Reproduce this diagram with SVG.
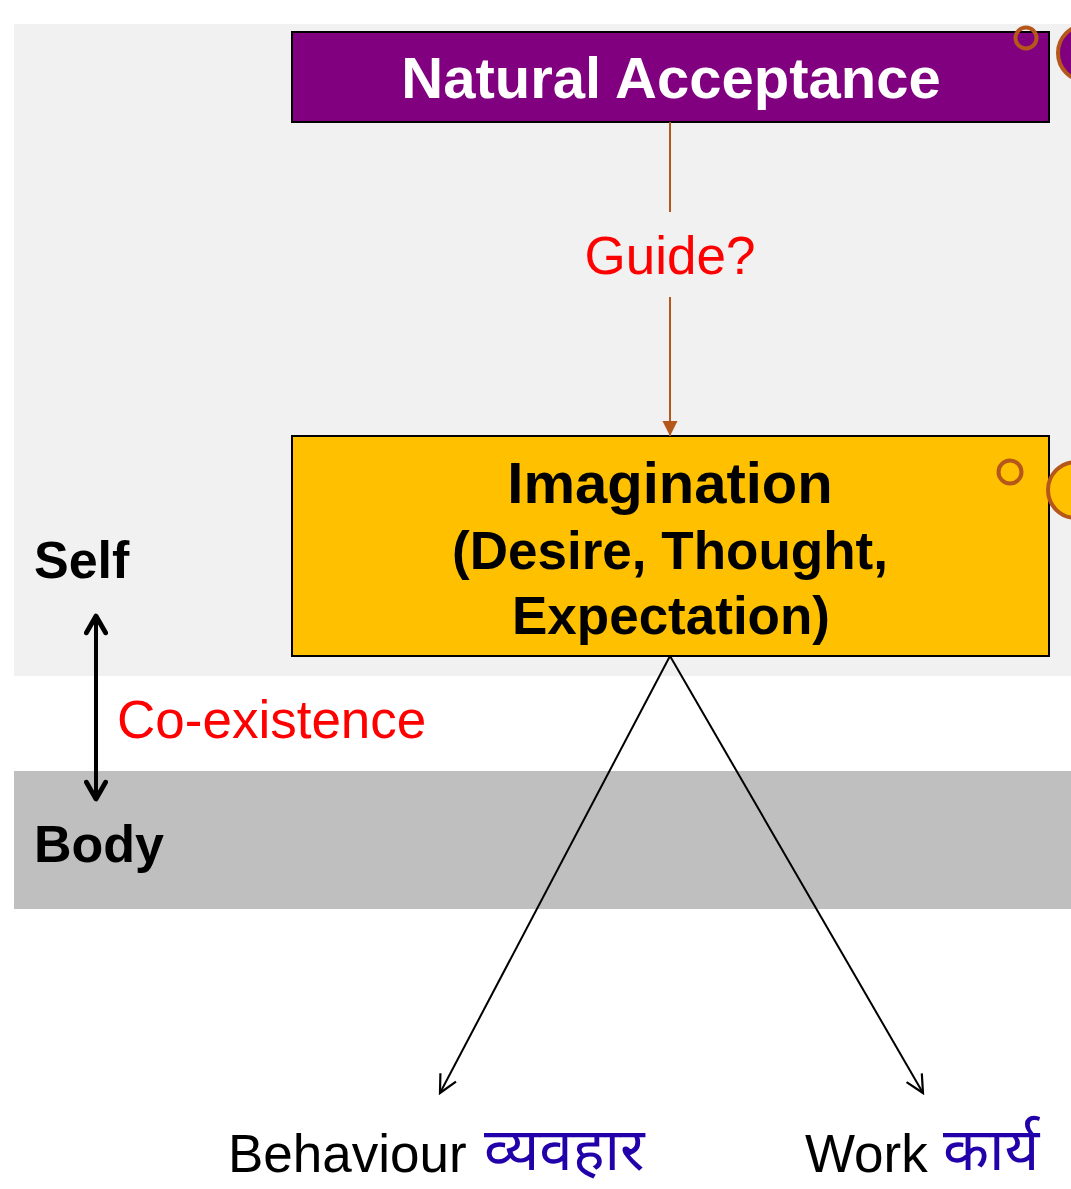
<svg xmlns="http://www.w3.org/2000/svg" width="1071" height="1189" viewBox="0 0 1071 1189">
  <style>
    .lbl { font-family: "Liberation Sans", Arial, sans-serif; }
    .bold { font-weight: bold; }
    .red { fill: #ff0000; }
    .ring { stroke: #b5561a; stroke-width: 4; }
    .hi { font-family: "Noto Sans", "DejaVu Sans", sans-serif; fill: #2200aa; }
  </style>
  <defs>
    <marker id="brownHead" viewBox="0 0 10 10" refX="10" refY="5" markerWidth="15" markerHeight="16" markerUnits="userSpaceOnUse" orient="auto">
      <path d="M0,0 L10,5 L0,10 Z" fill="#b5561a"/>
    </marker>
    <marker id="openHead" viewBox="0 0 20 20" refX="18" refY="10" markerWidth="22" markerHeight="22" markerUnits="userSpaceOnUse" orient="auto">
      <path d="M2,2 L18,10 L2,18" fill="none" stroke="#000" stroke-width="2"/>
    </marker>
    <marker id="thickHead" viewBox="0 0 20 20" refX="17" refY="10" markerWidth="24" markerHeight="24" markerUnits="userSpaceOnUse" orient="auto-start-reverse">
      <path d="M3,2 L17,10 L3,18" fill="none" stroke="#000" stroke-width="4" stroke-linecap="round" stroke-linejoin="round"/>
    </marker>
  </defs>

  <!-- background bands -->
  <rect x="14" y="24" width="1057" height="652" fill="#f1f1f1"/>
  <rect x="14" y="771" width="1057" height="138" fill="#bfbfbf"/>

  <g id="self-label"><text class="lbl bold" x="34" y="578" font-size="52">Self</text></g>
  <g id="body-label"><text class="lbl bold" x="34" y="862" font-size="52">Body</text></g>

  <g id="natural-acceptance">
    <rect x="292" y="32" width="757" height="90" fill="#800080" stroke="#000" stroke-width="2"/>
    <text class="lbl bold" x="671" y="98" font-size="58" fill="#fff" text-anchor="middle">Natural Acceptance</text>
    <circle class="ring" cx="1026" cy="38" r="10.5" fill="none"/>
    <circle class="ring" cx="1086" cy="53" r="28" fill="#800080"/>
  </g>

  <g id="imagination">
    <rect x="292" y="436" width="757" height="220" fill="#ffc000" stroke="#000" stroke-width="2"/>
    <text class="lbl bold" x="670" y="503" font-size="58" text-anchor="middle">Imagination</text>
    <text class="lbl bold" x="670" y="569" font-size="53" text-anchor="middle">(Desire, Thought,</text>
    <text class="lbl bold" x="671" y="634" font-size="53" text-anchor="middle">Expectation)</text>
    <circle class="ring" cx="1010" cy="472" r="11.5" fill="none"/>
    <circle class="ring" cx="1076" cy="490" r="28" fill="#ffc000"/>
  </g>

  <g id="behaviour">
    <text class="lbl" x="228" y="1172" font-size="53">Behaviour</text>
    <text class="hi" x="484" y="1170" font-size="60">व्यवहार</text>
  </g>
  <g id="work">
    <text class="lbl" x="805" y="1172" font-size="53">Work</text>
    <text class="hi" x="943" y="1170" font-size="60">कार्य</text>
  </g>

  <g id="connectors">
    <line x1="670" y1="122" x2="670" y2="212" stroke="#b5561a" stroke-width="2"/>
    <line x1="670" y1="297" x2="670" y2="436" stroke="#b5561a" stroke-width="2" marker-end="url(#brownHead)"/>
    <text class="lbl red" x="670" y="274" font-size="53" text-anchor="middle">Guide?</text>

    <line x1="96" y1="799" x2="96" y2="616" stroke="#000" stroke-width="4" marker-start="url(#thickHead)" marker-end="url(#thickHead)"/>
    <text class="lbl red" x="117" y="738" font-size="53">Co-existence</text>

    <line x1="670" y1="656" x2="440" y2="1093" stroke="#000" stroke-width="2" marker-end="url(#openHead)"/>
    <line x1="670" y1="656" x2="923" y2="1093" stroke="#000" stroke-width="2" marker-end="url(#openHead)"/>
  </g>
</svg>
